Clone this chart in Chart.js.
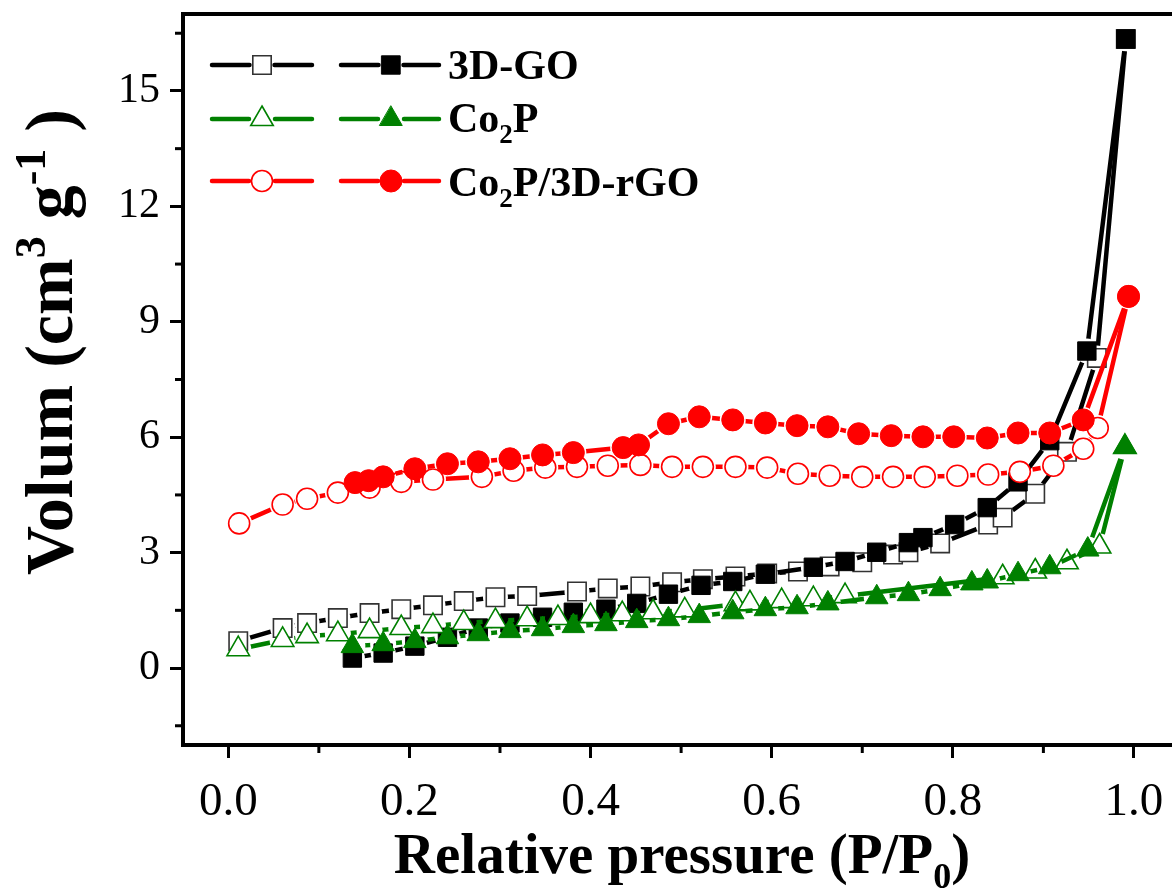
<!DOCTYPE html>
<html>
<head>
<meta charset="utf-8">
<script src="https://cdn.jsdelivr.net/npm/chart.js@4.4.1/dist/chart.umd.min.js"></script>
<style>
  html, body { margin: 0; padding: 0; background: #fff; overflow: hidden; }
  canvas { display: block; }
</style>
</head>
<body>
<canvas id="chart" width="1172" height="894"></canvas>
<script>
// --- Datos ---
// 3D-GO
const goAdsX = [0.011, 0.060, 0.087, 0.121, 0.156, 0.191, 0.226, 0.260, 0.295, 0.330, 0.385, 0.419, 0.455, 0.490, 0.524, 0.560, 0.595, 0.629, 0.664, 0.700, 0.734, 0.751, 0.786, 0.839, 0.855, 0.891, 0.926, 0.959, 0.991];
const goAdsY = [0.70, 1.04, 1.17, 1.30, 1.43, 1.53, 1.63, 1.74, 1.84, 1.87, 1.99, 2.07, 2.12, 2.23, 2.31, 2.38, 2.46, 2.51, 2.64, 2.75, 2.95, 3.01, 3.24, 3.73, 3.91, 4.53, 5.62, 8.06, 16.35];
const goDesX = [0.137, 0.171, 0.206, 0.242, 0.276, 0.311, 0.347, 0.381, 0.417, 0.451, 0.486, 0.522, 0.557, 0.593, 0.646, 0.681, 0.716, 0.751, 0.767, 0.802, 0.838, 0.872, 0.907, 0.948, 0.991];
const goDesY = [0.26, 0.39, 0.57, 0.80, 1.04, 1.17, 1.32, 1.45, 1.53, 1.68, 1.92, 2.15, 2.25, 2.44, 2.62, 2.77, 3.01, 3.26, 3.39, 3.73, 4.17, 4.84, 5.91, 8.24, 16.35];
// Co2P
const cpAdsX = [0.011, 0.060, 0.087, 0.121, 0.156, 0.191, 0.226, 0.260, 0.295, 0.330, 0.364, 0.400, 0.435, 0.469, 0.504, 0.560, 0.576, 0.611, 0.646, 0.681, 0.855, 0.891, 0.926, 0.962, 0.990];
const cpAdsY = [0.49, 0.73, 0.83, 0.88, 0.96, 1.04, 1.09, 1.17, 1.22, 1.27, 1.30, 1.35, 1.40, 1.45, 1.50, 1.66, 1.68, 1.74, 1.79, 1.87, 2.36, 2.51, 2.75, 3.16, 5.75];
const cpDesX = [0.137, 0.171, 0.206, 0.242, 0.276, 0.311, 0.347, 0.381, 0.417, 0.451, 0.486, 0.520, 0.557, 0.593, 0.628, 0.662, 0.716, 0.751, 0.786, 0.821, 0.838, 0.872, 0.907, 0.949, 0.990];
const cpDesY = [0.57, 0.62, 0.70, 0.80, 0.88, 0.96, 1.01, 1.09, 1.14, 1.22, 1.27, 1.35, 1.45, 1.53, 1.58, 1.68, 1.84, 1.92, 2.05, 2.20, 2.25, 2.44, 2.62, 3.08, 5.75];
// Co2P/3D-rGO
const rgoAdsX = [0.012, 0.060, 0.087, 0.121, 0.156, 0.191, 0.226, 0.280, 0.315, 0.350, 0.385, 0.419, 0.455, 0.490, 0.524, 0.560, 0.595, 0.629, 0.664, 0.700, 0.734, 0.769, 0.805, 0.839, 0.874, 0.911, 0.944, 0.960, 0.994];
const rgoAdsY = [3.76, 4.25, 4.40, 4.56, 4.69, 4.84, 4.90, 4.97, 5.13, 5.21, 5.23, 5.26, 5.28, 5.23, 5.23, 5.23, 5.21, 5.05, 5.00, 4.97, 4.97, 4.97, 5.00, 5.03, 5.10, 5.26, 5.70, 6.24, 9.66];
const rgoDesX = [0.140, 0.155, 0.171, 0.206, 0.242, 0.276, 0.311, 0.347, 0.381, 0.436, 0.453, 0.486, 0.520, 0.557, 0.593, 0.628, 0.662, 0.696, 0.732, 0.767, 0.801, 0.838, 0.872, 0.907, 0.944, 0.994];
const rgoDesY = [4.82, 4.87, 4.97, 5.18, 5.31, 5.36, 5.44, 5.54, 5.60, 5.73, 5.80, 6.35, 6.53, 6.45, 6.37, 6.30, 6.27, 6.09, 6.04, 6.01, 6.01, 5.98, 6.11, 6.11, 6.45, 9.66];

// Ejes
const xMajorTicks = [0.0, 0.2, 0.4, 0.6, 0.8, 1.0];
const xMinorTicks = [0.1, 0.3, 0.5, 0.7, 0.9];
const yMajorTicks = [0, 3, 6, 9, 12, 15];
const yMinorTicks = [-1.5, 1.5, 4.5, 7.5, 10.5, 13.5, 16.5];

const SERIF = "'Liberation Serif', 'Times New Roman', serif";
const BLACK = '#000000';
const GREEN = '#008000';
const RED = '#ff0000';

const toPoints = (xs, ys) => xs.map((x, i) => ({ x, y: ys[i] }));

// --- Series: cada una con línea (con hueco en el símbolo) + marcadores ---
const series = [
    { xs: rgoDesX, ys: rgoDesY, color: RED,   style: 'circle',   radius: 11,   open: false, gap: 13 },
    { xs: rgoAdsX, ys: rgoAdsY, color: RED,   style: 'circle',   radius: 10.5, open: true,  gap: 13 },
    { xs: cpDesX,  ys: cpDesY,  color: GREEN, style: 'triangle', radius: 13,   open: false, gap: 13 },
    { xs: cpAdsX,  ys: cpAdsY,  color: GREEN, style: 'triangle', radius: 13,   open: true,  gap: 13 },
    { xs: goDesX,  ys: goDesY,  color: BLACK, style: 'rect',     radius: 13,   open: false, gap: 12.5 },
    { xs: goAdsX,  ys: goAdsY,  color: BLACK, style: 'rect',     radius: 13,   open: true,  gap: 12.5 }
];

const datasets = [];
series.forEach((s, i) => {
    const pts = toPoints(s.xs, s.ys);
    datasets.push({
        data: pts,
        showLine: false,
        pointStyle: s.style,
        pointRadius: s.radius,
        pointHoverRadius: s.radius,
        pointBackgroundColor: s.open ? '#ffffff' : s.color,
        pointBorderColor: s.open && s.color === BLACK ? '#333333' : s.color,
        pointBorderWidth: s.open ? 1.6 : 1,
        order: i * 2
    });
    datasets.push({
        data: pts,
        showLine: true,
        borderColor: s.color,
        borderWidth: 4.5,
        borderCapStyle: 'round',
        borderJoinStyle: 'round',
        pointRadius: 0,
        tension: 0,
        gap: s.gap,
        order: i * 2 + 1
    });
});

// --- Plugins ---
// Hueco de la línea alrededor de cada símbolo (como Origin)
const symbolGap = {
    id: 'symbolGap',
    beforeDatasetDraw(chart, args) {
        const ds = chart.data.datasets[args.index];
        if (!ds.gap) return;
        const ctx = chart.ctx;
        ctx.save();
        ctx.beginPath();
        ctx.rect(0, 0, chart.width, chart.height);
        args.meta.data.forEach(pt => {
            ctx.moveTo(pt.x + ds.gap, pt.y);
            ctx.arc(pt.x, pt.y, ds.gap, 0, Math.PI * 2, true);
        });
        ctx.clip('evenodd');
    },
    afterDatasetDraw(chart, args) {
        if (chart.data.datasets[args.index].gap) chart.ctx.restore();
    }
};

function drawRich(ctx, parts, x, y, size, align) {
    const base = `bold ${size}px ${SERIF}`;
    const small = `bold ${Math.round(size * 0.64)}px ${SERIF}`;
    let total = 0;
    parts.forEach(p => {
        ctx.font = (p.sub || p.sup) ? small : base;
        p.w = ctx.measureText(p.t).width;
        total += p.w;
    });
    let cx = align === 'center' ? x - total / 2 : x;
    ctx.textAlign = 'left';
    ctx.textBaseline = 'alphabetic';
    parts.forEach(p => {
        ctx.font = (p.sub || p.sup) ? small : base;
        const dy = p.sub ? size * 0.26 : (p.sup ? -size * 0.40 : 0);
        ctx.fillText(p.t, cx, y + dy);
        cx += p.w;
    });
}

function drawMarker(ctx, s, x, y) {
    ctx.save();
    ctx.fillStyle = s.open ? '#ffffff' : s.color;
    ctx.strokeStyle = s.open && s.color === BLACK ? '#333333' : s.color;
    ctx.lineWidth = s.open ? 1.6 : 1;
    Chart.helpers.drawPoint(ctx, { pointStyle: s.style, radius: s.radius, rotation: 0, borderWidth: ctx.lineWidth }, x, y);
    ctx.restore();
}

const decorations = {
    id: 'decorations',
    afterDraw(chart) {
        const ctx = chart.ctx;
        const area = chart.chartArea;
        const xs = chart.scales.x, ys = chart.scales.y;
        ctx.save();
        // borde superior
        ctx.strokeStyle = '#000';
        ctx.lineWidth = 4;
        ctx.beginPath();
        ctx.moveTo(area.left - 2, area.top);
        ctx.lineTo(chart.width, area.top);
        ctx.stroke();
        // ticks menores
        ctx.lineWidth = 3;
        xMinorTicks.forEach(v => {
            const px = xs.getPixelForValue(v);
            ctx.beginPath();
            ctx.moveTo(px, area.bottom);
            ctx.lineTo(px, area.bottom + 8);
            ctx.stroke();
        });
        yMinorTicks.forEach(v => {
            const py = ys.getPixelForValue(v);
            ctx.beginPath();
            ctx.moveTo(area.left, py);
            ctx.lineTo(area.left - 8, py);
            ctx.stroke();
        });

        // títulos de ejes
        ctx.fillStyle = '#000';
        drawRich(ctx, [{ t: 'Relative pressure (P/P' }, { t: '0', sub: true }, { t: ')' }], 682, 873, 57, 'center');
        ctx.save();
        ctx.translate(72, 342);
        ctx.rotate(-Math.PI / 2);
        drawRich(ctx, [{ t: 'Volum (cm' }, { t: '3', sup: true }, { t: ' g' }, { t: '-1', sup: true }, { t: ' )' }], 0, 0, 68, 'center');
        ctx.restore();

        // leyenda
        const rows = [
            { open: series[5], filled: series[4], y: 65, base: 79, parts: [{ t: '3D-GO' }] },
            { open: series[3], filled: series[2], y: 119, base: 132, parts: [{ t: 'Co' }, { t: '2', sub: true }, { t: 'P' }] },
            { open: series[1], filled: series[0], y: 181, base: 196, parts: [{ t: 'Co' }, { t: '2', sub: true }, { t: 'P/3D-rGO' }] }
        ];
        rows.forEach(r => {
            [[r.open, 212, 262, 312], [r.filled, 341, 391, 439]].forEach(([s, x1, xm, x2]) => {
                ctx.strokeStyle = s.color;
                ctx.lineWidth = 4.5;
                ctx.lineCap = 'round';
                ctx.beginPath();
                ctx.moveTo(x1, r.y);
                ctx.lineTo(xm - s.gap, r.y);
                ctx.moveTo(xm + s.gap, r.y);
                ctx.lineTo(x2, r.y);
                ctx.stroke();
                drawMarker(ctx, s, xm, r.y);
            });
            ctx.fillStyle = '#000';
            drawRich(ctx, r.parts, 448, r.base, 42, 'left');
        });
        ctx.restore();
    }
};

const noLabelPadding = axis => {
    axis.paddingTop = 0;
    axis.paddingBottom = 0;
    axis.paddingLeft = 0;
    axis.paddingRight = 0;
};

// --- Gráfico ---
new Chart(document.getElementById('chart'), {
    type: 'scatter',
    data: { datasets },
    plugins: [symbolGap, decorations],
    options: {
        responsive: false,
        animation: false,
        devicePixelRatio: 1,
        layout: { autoPadding: false, padding: { top: 14, left: 0, right: 0, bottom: 0 } },
        plugins: {
            legend: { display: false },
            tooltip: { enabled: false }
        },
        scales: {
            x: {
                type: 'linear',
                min: -0.05,
                max: 1.042,
                afterBuildTicks: axis => { axis.ticks = xMajorTicks.map(v => ({ value: v })); },
                afterFit: axis => { axis.height = 149; noLabelPadding(axis); },
                ticks: {
                    callback: v => v.toFixed(1),
                    font: { family: SERIF, size: 47 },
                    color: '#000',
                    padding: 16,
                    maxRotation: 0,
                    autoSkip: false
                },
                grid: { drawOnChartArea: false, tickLength: 13, tickWidth: 3, tickColor: '#000' },
                border: { width: 4, color: '#000' }
            },
            y: {
                type: 'linear',
                min: -2,
                max: 17,
                afterBuildTicks: axis => { axis.ticks = yMajorTicks.map(v => ({ value: v })); },
                afterFit: axis => { axis.width = 183; noLabelPadding(axis); },
                ticks: {
                    callback: v => String(v),
                    font: { family: SERIF, size: 42 },
                    color: '#000',
                    padding: 10,
                    autoSkip: false
                },
                grid: { drawOnChartArea: false, tickLength: 13, tickWidth: 3, tickColor: '#000' },
                border: { width: 4, color: '#000' }
            }
        }
    }
});
</script>
</body>
</html>
